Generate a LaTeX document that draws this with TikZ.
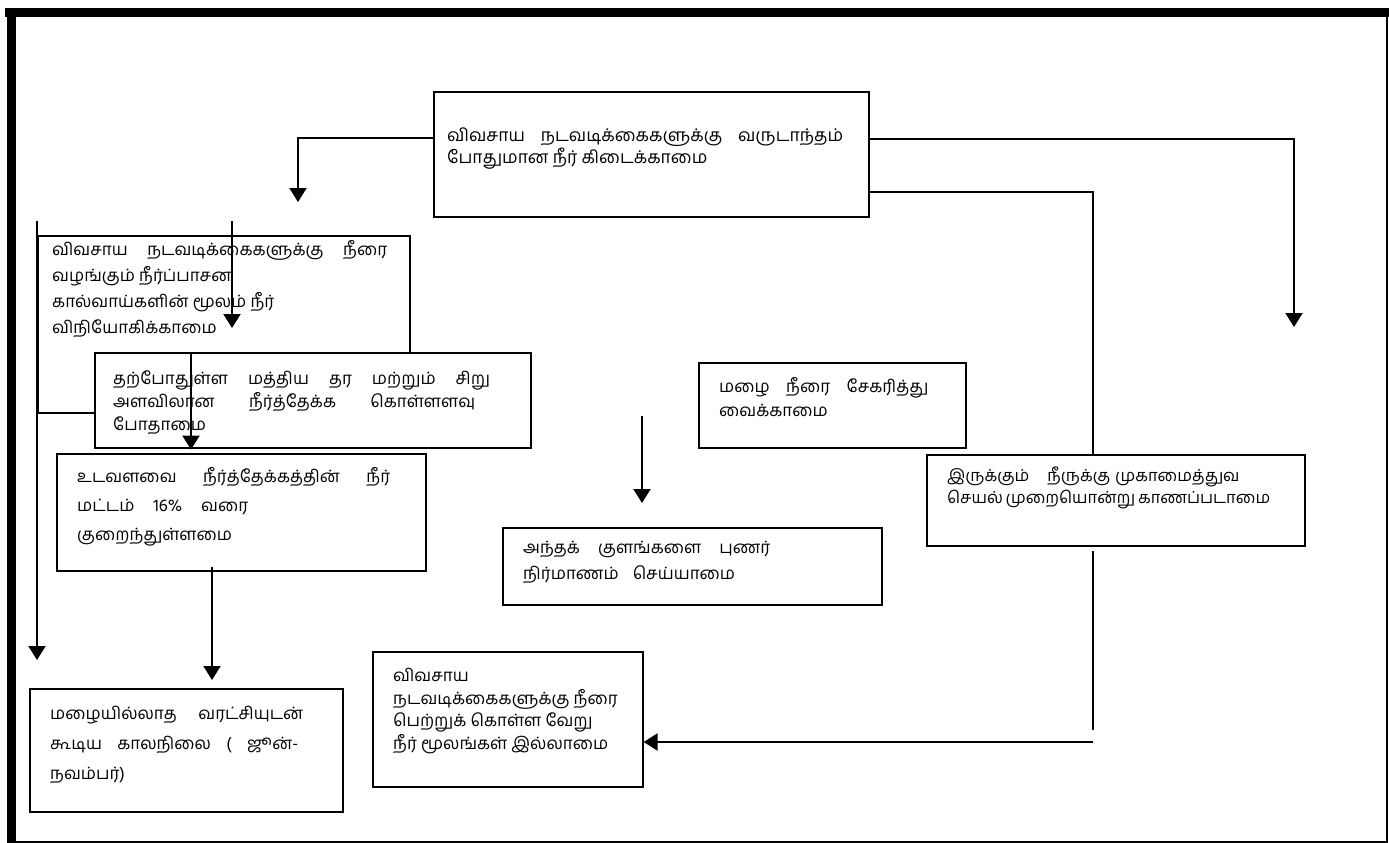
\documentclass[tikz,border=0pt]{standalone}
\usepackage{fontspec}
\usetikzlibrary{arrows.meta,calc}
\newfontfamily\tamil[Script=Tamil]{Hind Madurai}
\newcommand{\sline}[2]{\makebox[#1pt][s]{#2}}
\tikzset{
  box/.style={draw, line width=1.6pt, fill=white, anchor=north west, inner sep=0pt},
  txt/.style={inner sep=0pt, anchor=north west, align=left},
  conn/.style={line width=2pt},
  arr/.style={line width=2pt, -{Triangle[length=14pt,width=17pt]}},
}
\newcommand{\tf}[2]{\tamil\fontsize{#1}{#2}\selectfont}
\begin{document}
\begin{tikzpicture}[x=1pt,y=-1pt]
\useasboundingbox (0,0) rectangle (1389,843);
% page frame
\fill (5,8) rectangle (1389,17);
\fill (7,8) rectangle (16,843);
\draw[line width=1.5pt] (1387,17) -- (1387,842) -- (16,842);

% top box
\node[box, minimum width=435pt, minimum height=125pt] (A) at (433,91) {};
\node[txt, font=\tf{17.5}{20}] (At) at (447,128) {\sline{396}{விவசாய நடவடிக்கைகளுக்கு வருடாந்தம்}\\போதுமான நீர் கிடைக்காமை};

% box B (partly hidden)
\node[box, minimum width=372pt, minimum height=177pt] (B) at (37,235) {};
\node[txt, font=\tf{17}{26}] (Bt) at (52,240) {\sline{335}{விவசாய நடவடிக்கைகளுக்கு நீரை}\\வழங்கும் நீர்ப்பாசன\\கால்வாய்களின் மூலம் நீர்\\விநியோகிக்காமை};
\coordinate (l0) at (37,221);
\coordinate (l1) at (37,660);
\coordinate (m0) at (232,221);
\coordinate (m1) at (232,328);
\draw[arr] (l0) -- (l1);
\draw[arr] (m0) -- (m1);

% box C
\node[box, minimum width=436pt, minimum height=95pt] (C) at (94,352) {};
\node[txt, font=\tf{17}{23}] (Ct) at (113,371) {\sline{377}{தற்போதுள்ள மத்திய தர மற்றும் சிறு}\\\sline{362}{அளவிலான நீர்த்தேக்க கொள்ளளவு}\\போதாமை};

% box D
\node[box, minimum width=369pt, minimum height=117pt] (D) at (56,453) {};
\node[txt, font=\tf{17}{29}] (Dt) at (77,467) {\sline{313}{உடவளவை நீர்த்தேக்கத்தின் நீர்}\\\sline{171}{மட்டம் 16\% வரை}\\குறைந்துள்ளமை};
\draw[arr] ($(C.north west)+(97,2)$) -- ($(C.south west)+(97,1)$);

% box E
\node[box, minimum width=313pt, minimum height=123pt] (E) at (29,688) {};
\node[txt, font=\tf{17}{30}] (Et) at (50,706) {\sline{253}{மழையில்லாத வரட்சியுடன்}\\\sline{248}{கூடிய காலநிலை ( ஜூன்-}\\நவம்பர்)};
\draw[arr] ($(D.south west)+(156,-5)$) -- ($(E.north west)+(183,-8)$);

% box F
\node[box, minimum width=270pt, minimum height=135pt] (F) at (372,651) {};
\node[txt, font=\tf{17}{22.5}] (Ft) at (393,668) {விவசாய\\நடவடிக்கைகளுக்கு நீரை\\பெற்றுக் கொள்ள வேறு\\நீர் மூலங்கள் இல்லாமை};

% box H
\node[box, minimum width=267pt, minimum height=85pt] (H) at (698,362) {};
\node[txt, font=\tf{17}{24}] (Ht) at (719,377) {\sline{209}{மழை நீரை சேகரித்து}\\வைக்காமை};

% box I
\node[box, minimum width=379pt, minimum height=77pt] (I) at (502,527) {};
\node[txt, font=\tf{17}{26}] (It) at (523,541) {\sline{247}{அந்தக் குளங்களை புணர்}\\\sline{212}{நிர்மாணம் செய்யாமை}};
\coordinate (k0) at (642,416);
\coordinate (k1) at (642,503);
\draw[arr] (k0) -- (k1);

% box G
\node[box, minimum width=378pt, minimum height=91pt] (G) at (926,454) {};
\node[txt, font=\tf{16.5}{22}] (Gt) at (947,467) {\sline{290}{இருக்கும்\hspace{18pt plus 1fil}நீருக்கு\hspace{5pt plus 0.25fil}முகாமைத்துவ}\\\sline{321}{செயல் முறையொன்று காணப்படாமை}};

% connectors from A
\coordinate (tB) at (298,202);
\coordinate (tR) at (1294,327);
\draw[arr] ($(A.north west)+(0,47)$) -| (tB);
\draw[arr] ($(A.north east)+(0,48)$) -| (tR);
\draw[conn] ($(A.north east)+(0,101)$) -| ($(G.north west)+(167,0)$);
\coordinate (g1) at (1093,730);
\coordinate (g2) at (1093,742);
\draw[conn] ($(G.south west)+(167,4)$) -- (g1);
\draw[arr] (g2) -- (F.east |- g2);
\end{tikzpicture}
\end{document}
